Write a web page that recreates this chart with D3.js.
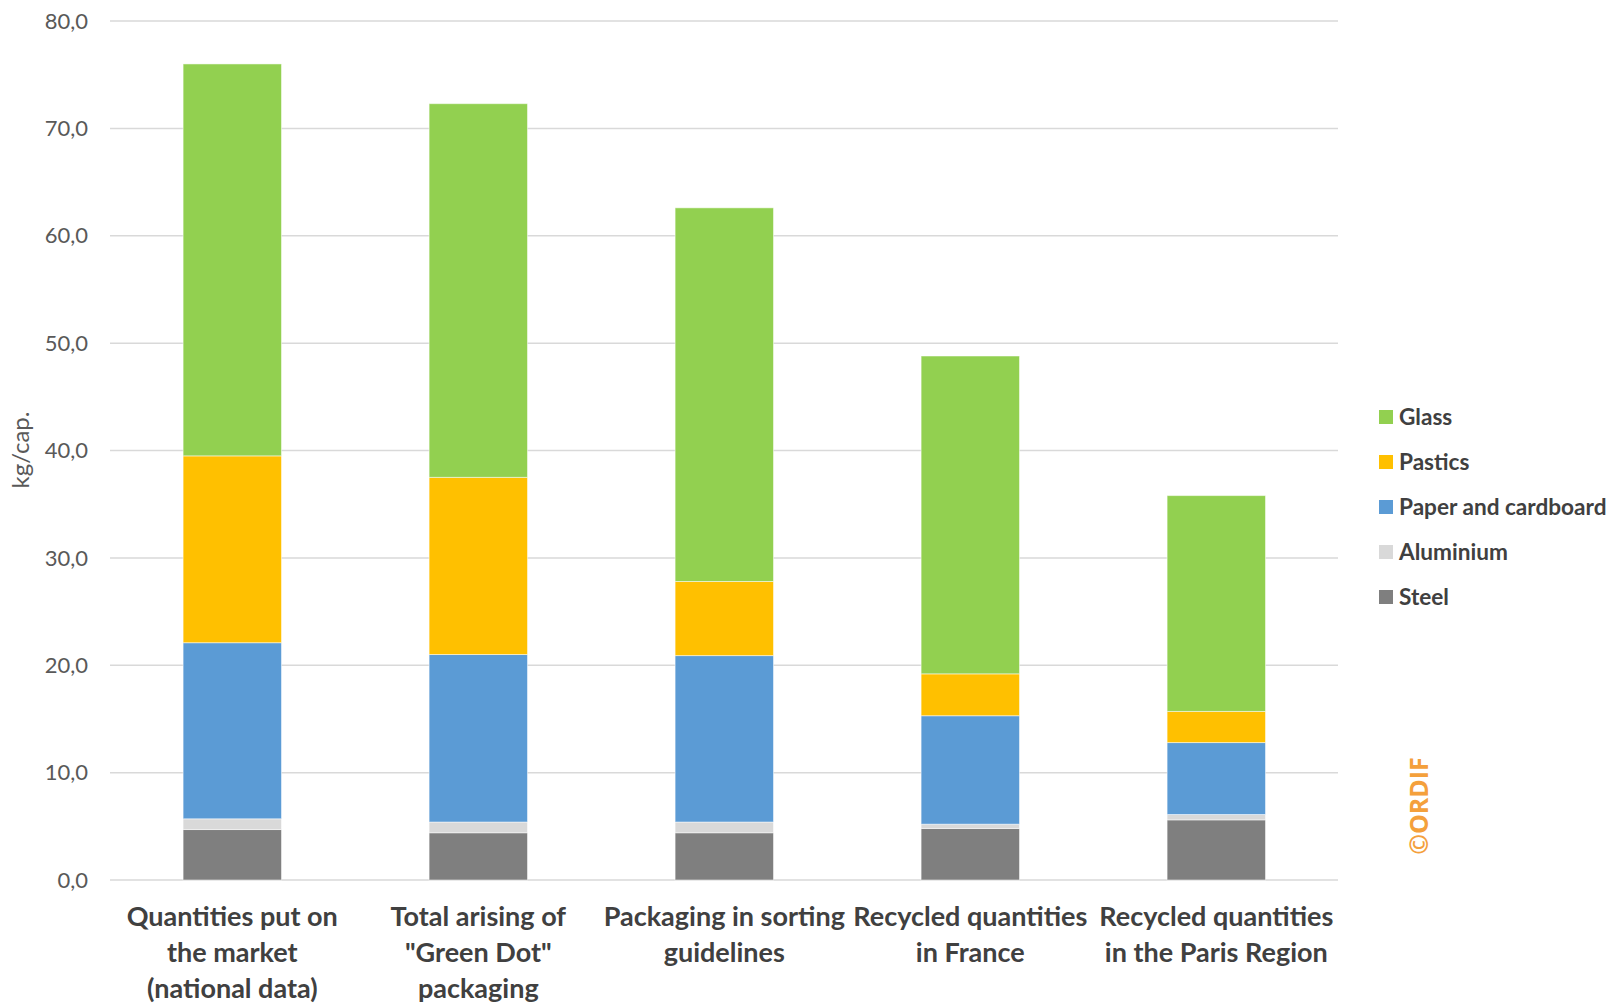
<!DOCTYPE html>
<html>
<head>
<meta charset="utf-8">
<script src="https://cdn.jsdelivr.net/npm/d3@7"></script>
<style>
  html, body { margin: 0; padding: 0; background: #fff; }
  svg { display: block; }
</style>
</head>
<body>
<svg id="chart" width="1611" height="1005"></svg>
<script>
const categories = [
  ["Quantities put on", "the market", "(national data)"],
  ["Total arising of", "\"Green Dot\"", "packaging"],
  ["Packaging in sorting", "guidelines"],
  ["Recycled quantities", "in France"],
  ["Recycled quantities", "in the Paris Region"]
];
const seriesNames = ["Steel", "Aluminium", "Paper and cardboard", "Pastics", "Glass"];
const steel     = [4.7, 4.4, 4.4, 4.8, 5.6];
const aluminium = [1.0, 1.0, 1.0, 0.4, 0.5];
const paper     = [16.4, 15.6, 15.5, 10.1, 6.7];
const plastics  = [17.4, 16.5, 6.9, 3.9, 2.9];
const glass     = [36.5, 34.8, 34.8, 29.6, 20.1];
const yTicks = [0, 10, 20, 30, 40, 50, 60, 70, 80];
const colors = ["#7F7F7F", "#D9D9D9", "#5B9BD5", "#FFC000", "#92D050"];

const svg = d3.select("#chart");
const font = "Lato, 'Open Sans', sans-serif";

const seriesValues = [steel, aluminium, paper, plastics, glass];
const rows = categories.map((c, i) => {
  const r = { idx: i };
  seriesNames.forEach((s, j) => r[s] = seriesValues[j][i]);
  return r;
});
const stacked = d3.stack().keys(seriesNames)(rows);

const x = d3.scaleBand().domain(d3.range(categories.length))
  .range([109.3, 1339.3]).paddingInner(0.6).paddingOuter(0.3);
const y = d3.scaleLinear().domain([0, 80]).range([880, 21]);

// gridlines
svg.append("g").selectAll("line").data(yTicks).join("line")
  .attr("x1", 110).attr("x2", 1338)
  .attr("y1", d => y(d)).attr("y2", d => y(d))
  .attr("stroke", "#D9D9D9").attr("stroke-width", 1.5);

// y tick labels
svg.append("g").selectAll("text").data(yTicks).join("text")
  .attr("x", 88).attr("y", d => y(d)).attr("dy", "0.35em")
  .attr("text-anchor", "end")
  .attr("font-family", font).attr("font-size", 22).attr("fill", "#595959")
  .text(d => d3.format(".1f")(d).replace(".", ","));

// y title
svg.append("text")
  .attr("transform", "translate(21,450) rotate(-90)")
  .attr("text-anchor", "middle").attr("dy", "0.35em")
  .attr("font-family", font).attr("font-size", 24).attr("fill", "#595959")
  .text("kg/cap.");

// bars
svg.append("g").selectAll("g").data(stacked).join("g")
  .attr("fill", (d, i) => colors[i])
  .selectAll("rect").data(d => d).join("rect")
  .attr("x", d => x(d.data.idx))
  .attr("width", x.bandwidth())
  .attr("y", d => y(d[1]))
  .attr("height", d => y(d[0]) - y(d[1]))
  .attr("stroke", "#ffffff").attr("stroke-opacity", 0.5).attr("stroke-width", 1);

// x labels
const xl = svg.append("g").selectAll("text").data(categories).join("text")
  .attr("text-anchor", "middle")
  .attr("font-family", font).attr("font-size", 27).attr("font-weight", "bold")
  .attr("fill", "#404040");
xl.each(function(lines, i) {
  const t = d3.select(this);
  lines.forEach((l, k) => {
    t.append("tspan")
      .attr("x", x(i) + x.bandwidth() / 2)
      .attr("y", 917 + k * 36).attr("dy", "0.35em")
      .text(l);
  });
});

// legend
const legendOrder = ["Glass", "Pastics", "Paper and cardboard", "Aluminium", "Steel"];
const lg = svg.append("g").selectAll("g").data(legendOrder).join("g")
  .attr("transform", (d, i) => `translate(1379,${417 + i * 45})`);
lg.append("rect").attr("x", 0).attr("y", -7).attr("width", 14).attr("height", 14)
  .attr("fill", d => colors[seriesNames.indexOf(d)]);
lg.append("text").attr("x", 20).attr("y", 0).attr("dy", "0.35em")
  .attr("font-family", font).attr("font-size", 22.6).attr("font-weight", "bold")
  .attr("fill", "#404040").text(d => d);

// watermark
svg.append("text")
  .attr("transform", "translate(1419,806) rotate(-90)")
  .attr("text-anchor", "middle").attr("dy", "0.35em")
  .attr("font-family", "'Open Sans', sans-serif").attr("font-size", 25).attr("font-weight", "bold")
  .attr("fill", "#F4A03C").text("©ORDIF");
</script>
</body>
</html>
